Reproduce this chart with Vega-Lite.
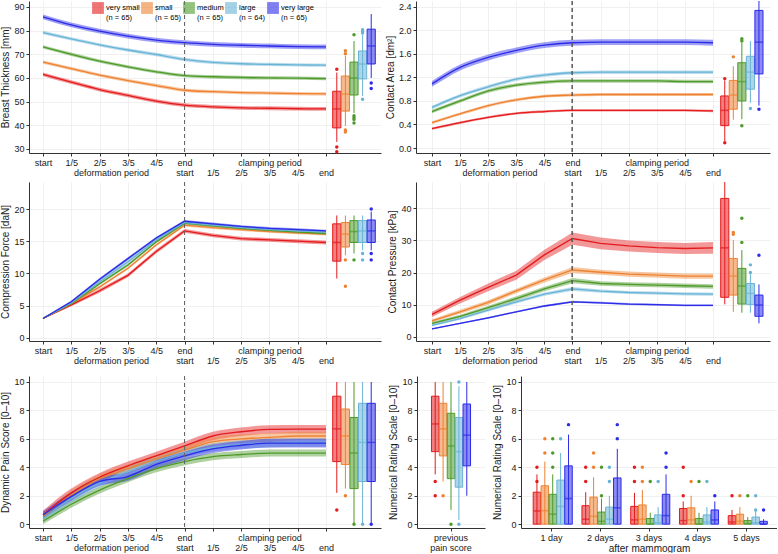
{
"$schema":"https://vega.github.io/schema/vega-lite/v6.json",
"padding":0,
"config":{"font":"Liberation Sans","view":{"stroke":null},
"axis":{"labelFontSize":9,"titleFontSize":10,"titleFontWeight":"normal","labelColor":"#1a1a1a","titleColor":"#1a1a1a","domainColor":"#333","tickColor":"#333","tickSize":3,"labelPadding":2,"titlePadding":3,"gridColor":"#ececec","gridWidth":0.8,"labelOverlap":false}},
"datasets":{
"lA":[
{"g":"very small","t":0,"m":61.5,"lo":60.7,"hi":62.3},{"g":"very small","t":1,"m":58.2,"lo":57.4,"hi":59.0},{"g":"very small","t":2,"m":55.1,"lo":54.3,"hi":55.9},{"g":"very small","t":3,"m":52.6,"lo":51.8,"hi":53.4},{"g":"very small","t":4,"m":50.2,"lo":49.4,"hi":51.0},{"g":"very small","t":5,"m":48.5,"lo":47.7,"hi":49.3},{"g":"very small","t":6,"m":47.8,"lo":47.0,"hi":48.6},{"g":"very small","t":7,"m":47.4,"lo":46.6,"hi":48.2},{"g":"very small","t":8,"m":47.2,"lo":46.4,"hi":48.0},{"g":"very small","t":9,"m":47.0,"lo":46.2,"hi":47.8},{"g":"very small","t":10,"m":46.9,"lo":46.1,"hi":47.7},
{"g":"small","t":0,"m":66.7,"lo":66.0,"hi":67.4},{"g":"small","t":1,"m":63.9,"lo":63.2,"hi":64.6},{"g":"small","t":2,"m":61.2,"lo":60.5,"hi":61.9},{"g":"small","t":3,"m":58.9,"lo":58.2,"hi":59.6},{"g":"small","t":4,"m":56.8,"lo":56.1,"hi":57.5},{"g":"small","t":5,"m":54.8,"lo":54.1,"hi":55.5},{"g":"small","t":6,"m":54.2,"lo":53.5,"hi":54.9},{"g":"small","t":7,"m":53.8,"lo":53.1,"hi":54.5},{"g":"small","t":8,"m":53.6,"lo":52.9,"hi":54.3},{"g":"small","t":9,"m":53.4,"lo":52.7,"hi":54.1},{"g":"small","t":10,"m":53.3,"lo":52.6,"hi":54.0},
{"g":"medium","t":0,"m":73.1,"lo":72.4,"hi":73.8},{"g":"medium","t":1,"m":70.0,"lo":69.3,"hi":70.7},{"g":"medium","t":2,"m":67.1,"lo":66.4,"hi":67.8},{"g":"medium","t":3,"m":64.7,"lo":64.0,"hi":65.4},{"g":"medium","t":4,"m":62.6,"lo":61.9,"hi":63.3},{"g":"medium","t":5,"m":61.0,"lo":60.3,"hi":61.7},{"g":"medium","t":6,"m":60.5,"lo":59.8,"hi":61.2},{"g":"medium","t":7,"m":60.2,"lo":59.5,"hi":60.9},{"g":"medium","t":8,"m":60.0,"lo":59.3,"hi":60.7},{"g":"medium","t":9,"m":59.9,"lo":59.2,"hi":60.6},{"g":"medium","t":10,"m":59.7,"lo":59.0,"hi":60.4},
{"g":"large","t":0,"m":79.2,"lo":78.5,"hi":79.9},{"g":"large","t":1,"m":76.5,"lo":75.8,"hi":77.2},{"g":"large","t":2,"m":74.0,"lo":73.3,"hi":74.7},{"g":"large","t":3,"m":71.8,"lo":71.1,"hi":72.5},{"g":"large","t":4,"m":69.9,"lo":69.2,"hi":70.6},{"g":"large","t":5,"m":67.8,"lo":67.1,"hi":68.5},{"g":"large","t":6,"m":66.6,"lo":65.9,"hi":67.3},{"g":"large","t":7,"m":66.0,"lo":65.3,"hi":66.7},{"g":"large","t":8,"m":65.7,"lo":65.0,"hi":66.4},{"g":"large","t":9,"m":65.5,"lo":64.8,"hi":66.2},{"g":"large","t":10,"m":65.4,"lo":64.7,"hi":66.1},
{"g":"very large","t":0,"m":85.8,"lo":84.8,"hi":86.8},{"g":"very large","t":1,"m":82.4,"lo":81.4,"hi":83.4},{"g":"very large","t":2,"m":79.8,"lo":78.8,"hi":80.8},{"g":"very large","t":3,"m":77.7,"lo":76.7,"hi":78.7},{"g":"very large","t":4,"m":76.0,"lo":75.0,"hi":77.0},{"g":"very large","t":5,"m":74.9,"lo":73.9,"hi":75.9},{"g":"very large","t":6,"m":74.2,"lo":73.2,"hi":75.2},{"g":"very large","t":7,"m":73.8,"lo":72.8,"hi":74.8},{"g":"very large","t":8,"m":73.5,"lo":72.5,"hi":74.5},{"g":"very large","t":9,"m":73.2,"lo":72.2,"hi":74.2},{"g":"very large","t":10,"m":73.1,"lo":72.1,"hi":74.1}],
"lB":[
{"g":"very small","t":0,"m":0.33,"lo":0.31,"hi":0.35},{"g":"very small","t":1,"m":0.43,"lo":0.41,"hi":0.45},{"g":"very small","t":2,"m":0.52,"lo":0.50,"hi":0.54},{"g":"very small","t":3,"m":0.59,"lo":0.57,"hi":0.61},{"g":"very small","t":4,"m":0.62,"lo":0.60,"hi":0.64},{"g":"very small","t":5,"m":0.64,"lo":0.62,"hi":0.66},{"g":"very small","t":6,"m":0.64,"lo":0.62,"hi":0.66},{"g":"very small","t":7,"m":0.64,"lo":0.62,"hi":0.66},{"g":"very small","t":8,"m":0.64,"lo":0.62,"hi":0.66},{"g":"very small","t":9,"m":0.64,"lo":0.62,"hi":0.66},{"g":"very small","t":10,"m":0.63,"lo":0.61,"hi":0.65},
{"g":"small","t":0,"m":0.43,"lo":0.405,"hi":0.455},{"g":"small","t":1,"m":0.58,"lo":0.555,"hi":0.605},{"g":"small","t":2,"m":0.72,"lo":0.695,"hi":0.745},{"g":"small","t":3,"m":0.82,"lo":0.795,"hi":0.845},{"g":"small","t":4,"m":0.88,"lo":0.855,"hi":0.905},{"g":"small","t":5,"m":0.90,"lo":0.875,"hi":0.925},{"g":"small","t":6,"m":0.91,"lo":0.885,"hi":0.935},{"g":"small","t":7,"m":0.91,"lo":0.885,"hi":0.935},{"g":"small","t":8,"m":0.91,"lo":0.885,"hi":0.935},{"g":"small","t":9,"m":0.91,"lo":0.885,"hi":0.935},{"g":"small","t":10,"m":0.91,"lo":0.885,"hi":0.935},
{"g":"medium","t":0,"m":0.62,"lo":0.59,"hi":0.65},{"g":"medium","t":1,"m":0.80,"lo":0.77,"hi":0.83},{"g":"medium","t":2,"m":0.97,"lo":0.94,"hi":1.00},{"g":"medium","t":3,"m":1.07,"lo":1.04,"hi":1.10},{"g":"medium","t":4,"m":1.12,"lo":1.09,"hi":1.15},{"g":"medium","t":5,"m":1.14,"lo":1.11,"hi":1.17},{"g":"medium","t":6,"m":1.14,"lo":1.11,"hi":1.17},{"g":"medium","t":7,"m":1.14,"lo":1.11,"hi":1.17},{"g":"medium","t":8,"m":1.14,"lo":1.11,"hi":1.17},{"g":"medium","t":9,"m":1.13,"lo":1.10,"hi":1.16},{"g":"medium","t":10,"m":1.13,"lo":1.10,"hi":1.16},
{"g":"large","t":0,"m":0.69,"lo":0.66,"hi":0.72},{"g":"large","t":1,"m":0.89,"lo":0.86,"hi":0.92},{"g":"large","t":2,"m":1.04,"lo":1.01,"hi":1.07},{"g":"large","t":3,"m":1.17,"lo":1.14,"hi":1.20},{"g":"large","t":4,"m":1.24,"lo":1.21,"hi":1.27},{"g":"large","t":5,"m":1.28,"lo":1.25,"hi":1.31},{"g":"large","t":6,"m":1.29,"lo":1.26,"hi":1.32},{"g":"large","t":7,"m":1.29,"lo":1.26,"hi":1.32},{"g":"large","t":8,"m":1.29,"lo":1.26,"hi":1.32},{"g":"large","t":9,"m":1.29,"lo":1.26,"hi":1.32},{"g":"large","t":10,"m":1.29,"lo":1.26,"hi":1.32},
{"g":"very large","t":0,"m":1.09,"lo":1.04,"hi":1.14},{"g":"very large","t":1,"m":1.37,"lo":1.32,"hi":1.42},{"g":"very large","t":2,"m":1.54,"lo":1.49,"hi":1.59},{"g":"very large","t":3,"m":1.66,"lo":1.61,"hi":1.71},{"g":"very large","t":4,"m":1.75,"lo":1.70,"hi":1.80},{"g":"very large","t":5,"m":1.79,"lo":1.74,"hi":1.84},{"g":"very large","t":6,"m":1.80,"lo":1.75,"hi":1.85},{"g":"very large","t":7,"m":1.80,"lo":1.75,"hi":1.85},{"g":"very large","t":8,"m":1.80,"lo":1.75,"hi":1.85},{"g":"very large","t":9,"m":1.80,"lo":1.75,"hi":1.85},{"g":"very large","t":10,"m":1.79,"lo":1.74,"hi":1.84}],
"lC":[
{"g":"very small","t":0,"m":3.0,"lo":2.9,"hi":3.1},{"g":"very small","t":1,"m":5.1,"lo":4.9,"hi":5.3},{"g":"very small","t":2,"m":7.3,"lo":7.0,"hi":7.6},{"g":"very small","t":3,"m":9.7,"lo":9.4,"hi":10.0},{"g":"very small","t":4,"m":13.4,"lo":13.1,"hi":13.7},{"g":"very small","t":5,"m":16.6,"lo":16.3,"hi":16.9},{"g":"very small","t":6,"m":15.9,"lo":15.6,"hi":16.2},{"g":"very small","t":7,"m":15.4,"lo":15.1,"hi":15.7},{"g":"very small","t":8,"m":15.2,"lo":14.9,"hi":15.5},{"g":"very small","t":9,"m":15.0,"lo":14.7,"hi":15.3},{"g":"very small","t":10,"m":14.8,"lo":14.5,"hi":15.1},
{"g":"small","t":0,"m":3.0,"lo":2.9,"hi":3.1},{"g":"small","t":1,"m":5.3,"lo":5.1,"hi":5.5},{"g":"small","t":2,"m":7.9,"lo":7.7,"hi":8.1},{"g":"small","t":3,"m":10.8,"lo":10.6,"hi":11.0},{"g":"small","t":4,"m":14.4,"lo":14.2,"hi":14.6},{"g":"small","t":5,"m":17.5,"lo":17.3,"hi":17.7},{"g":"small","t":6,"m":17.1,"lo":16.9,"hi":17.3},{"g":"small","t":7,"m":16.8,"lo":16.6,"hi":17.0},{"g":"small","t":8,"m":16.5,"lo":16.3,"hi":16.7},{"g":"small","t":9,"m":16.3,"lo":16.1,"hi":16.5},{"g":"small","t":10,"m":16.1,"lo":15.9,"hi":16.3},
{"g":"medium","t":0,"m":3.0,"lo":2.9,"hi":3.1},{"g":"medium","t":1,"m":5.3,"lo":5.1,"hi":5.5},{"g":"medium","t":2,"m":8.4,"lo":8.2,"hi":8.6},{"g":"medium","t":3,"m":11.3,"lo":11.1,"hi":11.5},{"g":"medium","t":4,"m":14.9,"lo":14.7,"hi":15.1},{"g":"medium","t":5,"m":17.8,"lo":17.6,"hi":18.0},{"g":"medium","t":6,"m":17.4,"lo":17.2,"hi":17.6},{"g":"medium","t":7,"m":17.0,"lo":16.8,"hi":17.2},{"g":"medium","t":8,"m":16.7,"lo":16.5,"hi":16.9},{"g":"medium","t":9,"m":16.4,"lo":16.2,"hi":16.6},{"g":"medium","t":10,"m":16.2,"lo":16.0,"hi":16.4},
{"g":"large","t":0,"m":3.0,"lo":2.9,"hi":3.1},{"g":"large","t":1,"m":5.4,"lo":5.1,"hi":5.7},{"g":"large","t":2,"m":8.7,"lo":8.4,"hi":9.0},{"g":"large","t":3,"m":11.8,"lo":11.5,"hi":12.1},{"g":"large","t":4,"m":15.2,"lo":14.95,"hi":15.45},{"g":"large","t":5,"m":17.9,"lo":17.65,"hi":18.15},{"g":"large","t":6,"m":17.5,"lo":17.25,"hi":17.75},{"g":"large","t":7,"m":17.1,"lo":16.85,"hi":17.35},{"g":"large","t":8,"m":16.8,"lo":16.55,"hi":17.05},{"g":"large","t":9,"m":16.6,"lo":16.35,"hi":16.85},{"g":"large","t":10,"m":16.4,"lo":16.15,"hi":16.65},
{"g":"very large","t":0,"m":3.0,"lo":2.9,"hi":3.1},{"g":"very large","t":1,"m":5.6,"lo":5.4,"hi":5.8},{"g":"very large","t":2,"m":9.1,"lo":8.9,"hi":9.3},{"g":"very large","t":3,"m":12.3,"lo":12.1,"hi":12.5},{"g":"very large","t":4,"m":15.5,"lo":15.3,"hi":15.7},{"g":"very large","t":5,"m":18.1,"lo":17.9,"hi":18.3},{"g":"very large","t":6,"m":17.7,"lo":17.5,"hi":17.9},{"g":"very large","t":7,"m":17.3,"lo":17.1,"hi":17.5},{"g":"very large","t":8,"m":17.0,"lo":16.8,"hi":17.2},{"g":"very large","t":9,"m":16.8,"lo":16.6,"hi":17.0},{"g":"very large","t":10,"m":16.6,"lo":16.4,"hi":16.8}],
"lD":[
{"g":"very small","t":0,"m":7.0,"lo":6.2,"hi":7.8},{"g":"very small","t":1,"m":11.4,"lo":10.4,"hi":12.4},{"g":"very small","t":2,"m":15.4,"lo":14.2,"hi":16.6},{"g":"very small","t":3,"m":19.2,"lo":17.8,"hi":20.6},{"g":"very small","t":4,"m":25.5,"lo":23.9,"hi":27.1},{"g":"very small","t":5,"m":30.6,"lo":28.7,"hi":32.5},{"g":"very small","t":6,"m":29.1,"lo":27.3,"hi":30.9},{"g":"very small","t":7,"m":28.3,"lo":26.6,"hi":30.0},{"g":"very small","t":8,"m":27.8,"lo":26.1,"hi":29.5},{"g":"very small","t":9,"m":27.5,"lo":25.8,"hi":29.2},{"g":"very small","t":10,"m":27.7,"lo":25.9,"hi":29.5},
{"g":"small","t":0,"m":5.0,"lo":4.5,"hi":5.5},{"g":"small","t":1,"m":7.8,"lo":7.2,"hi":8.4},{"g":"small","t":2,"m":10.7,"lo":10.0,"hi":11.4},{"g":"small","t":3,"m":14.3,"lo":13.6,"hi":15.0},{"g":"small","t":4,"m":17.7,"lo":16.9,"hi":18.5},{"g":"small","t":5,"m":20.8,"lo":19.9,"hi":21.7},{"g":"small","t":6,"m":20.1,"lo":19.3,"hi":20.9},{"g":"small","t":7,"m":19.5,"lo":18.7,"hi":20.3},{"g":"small","t":8,"m":19.2,"lo":18.4,"hi":20.0},{"g":"small","t":9,"m":18.9,"lo":18.1,"hi":19.7},{"g":"small","t":10,"m":18.9,"lo":18.1,"hi":19.7},
{"g":"medium","t":0,"m":4.2,"lo":3.8,"hi":4.6},{"g":"medium","t":1,"m":6.4,"lo":5.9,"hi":6.9},{"g":"medium","t":2,"m":9.1,"lo":8.5,"hi":9.7},{"g":"medium","t":3,"m":11.9,"lo":11.2,"hi":12.6},{"g":"medium","t":4,"m":14.9,"lo":14.2,"hi":15.6},{"g":"medium","t":5,"m":17.5,"lo":16.7,"hi":18.3},{"g":"medium","t":6,"m":16.6,"lo":15.9,"hi":17.3},{"g":"medium","t":7,"m":16.3,"lo":15.6,"hi":17.0},{"g":"medium","t":8,"m":16.1,"lo":15.4,"hi":16.8},{"g":"medium","t":9,"m":15.9,"lo":15.2,"hi":16.6},{"g":"medium","t":10,"m":15.7,"lo":15.0,"hi":16.4},
{"g":"large","t":0,"m":3.6,"lo":3.3,"hi":3.9},{"g":"large","t":1,"m":5.7,"lo":5.3,"hi":6.1},{"g":"large","t":2,"m":8.3,"lo":7.9,"hi":8.7},{"g":"large","t":3,"m":10.9,"lo":10.4,"hi":11.4},{"g":"large","t":4,"m":13.3,"lo":12.8,"hi":13.8},{"g":"large","t":5,"m":14.9,"lo":14.3,"hi":15.5},{"g":"large","t":6,"m":14.2,"lo":13.7,"hi":14.7},{"g":"large","t":7,"m":13.8,"lo":13.3,"hi":14.3},{"g":"large","t":8,"m":13.6,"lo":13.1,"hi":14.1},{"g":"large","t":9,"m":13.4,"lo":12.9,"hi":13.9},{"g":"large","t":10,"m":13.3,"lo":12.8,"hi":13.8},
{"g":"very large","t":0,"m":2.5,"lo":2.3,"hi":2.7},{"g":"very large","t":1,"m":4.2,"lo":4.0,"hi":4.4},{"g":"very large","t":2,"m":5.9,"lo":5.65,"hi":6.15},{"g":"very large","t":3,"m":7.8,"lo":7.55,"hi":8.05},{"g":"very large","t":4,"m":9.6,"lo":9.3,"hi":9.9},{"g":"very large","t":5,"m":10.9,"lo":10.6,"hi":11.2},{"g":"very large","t":6,"m":10.6,"lo":10.3,"hi":10.9},{"g":"very large","t":7,"m":10.2,"lo":9.9,"hi":10.5},{"g":"very large","t":8,"m":10.0,"lo":9.7,"hi":10.3},{"g":"very large","t":9,"m":9.8,"lo":9.5,"hi":10.1},{"g":"very large","t":10,"m":9.8,"lo":9.5,"hi":10.1}],
"lE":[
{"g":"very small","t":0,"m":0.65,"lo":0.35,"hi":0.95},{"g":"very small","t":1,"m":2.2,"lo":1.9,"hi":2.5},{"g":"very small","t":2,"m":3.3,"lo":3.0,"hi":3.6},{"g":"very small","t":3,"m":4.1,"lo":3.8,"hi":4.4},{"g":"very small","t":4,"m":4.8,"lo":4.5,"hi":5.1},{"g":"very small","t":5,"m":5.5,"lo":5.2,"hi":5.8},{"g":"very small","t":6,"m":6.2,"lo":5.9,"hi":6.5},{"g":"very small","t":7,"m":6.5,"lo":6.2,"hi":6.8},{"g":"very small","t":8,"m":6.66,"lo":6.36,"hi":6.96},{"g":"very small","t":9,"m":6.68,"lo":6.38,"hi":6.98},{"g":"very small","t":10,"m":6.68,"lo":6.38,"hi":6.98},
{"g":"small","t":0,"m":0.55,"lo":0.3,"hi":0.8},{"g":"small","t":1,"m":2.05,"lo":1.75,"hi":2.35},{"g":"small","t":2,"m":3.2,"lo":2.9,"hi":3.5},{"g":"small","t":3,"m":3.9,"lo":3.6,"hi":4.2},{"g":"small","t":4,"m":4.6,"lo":4.3,"hi":4.9},{"g":"small","t":5,"m":5.2,"lo":4.9,"hi":5.5},{"g":"small","t":6,"m":5.8,"lo":5.5,"hi":6.1},{"g":"small","t":7,"m":6.0,"lo":5.7,"hi":6.3},{"g":"small","t":8,"m":6.1,"lo":5.8,"hi":6.4},{"g":"small","t":9,"m":6.2,"lo":5.9,"hi":6.5},{"g":"small","t":10,"m":6.2,"lo":5.9,"hi":6.5},
{"g":"medium","t":0,"m":0.2,"lo":0.0,"hi":0.4},{"g":"medium","t":1,"m":1.4,"lo":1.15,"hi":1.65},{"g":"medium","t":2,"m":2.4,"lo":2.15,"hi":2.65},{"g":"medium","t":3,"m":3.2,"lo":2.95,"hi":3.45},{"g":"medium","t":4,"m":3.9,"lo":3.65,"hi":4.15},{"g":"medium","t":5,"m":4.4,"lo":4.15,"hi":4.65},{"g":"medium","t":6,"m":4.75,"lo":4.5,"hi":5.0},{"g":"medium","t":7,"m":4.9,"lo":4.65,"hi":5.15},{"g":"medium","t":8,"m":5.0,"lo":4.75,"hi":5.25},{"g":"medium","t":9,"m":5.0,"lo":4.75,"hi":5.25},{"g":"medium","t":10,"m":5.0,"lo":4.75,"hi":5.25},
{"g":"large","t":0,"m":0.4,"lo":0.15,"hi":0.65},{"g":"large","t":1,"m":1.8,"lo":1.5,"hi":2.1},{"g":"large","t":2,"m":2.9,"lo":2.6,"hi":3.2},{"g":"large","t":3,"m":3.7,"lo":3.4,"hi":4.0},{"g":"large","t":4,"m":4.4,"lo":4.1,"hi":4.7},{"g":"large","t":5,"m":5.0,"lo":4.7,"hi":5.3},{"g":"large","t":6,"m":5.4,"lo":5.1,"hi":5.7},{"g":"large","t":7,"m":5.6,"lo":5.3,"hi":5.9},{"g":"large","t":8,"m":5.7,"lo":5.4,"hi":6.0},{"g":"large","t":9,"m":5.75,"lo":5.45,"hi":6.05},{"g":"large","t":10,"m":5.75,"lo":5.45,"hi":6.05},
{"g":"very large","t":0,"m":0.65,"lo":0.4,"hi":0.9},{"g":"very large","t":1,"m":1.95,"lo":1.65,"hi":2.25},{"g":"very large","t":2,"m":3.0,"lo":2.7,"hi":3.3},{"g":"very large","t":3,"m":3.35,"lo":3.05,"hi":3.65},{"g":"very large","t":4,"m":4.2,"lo":3.9,"hi":4.5},{"g":"very large","t":5,"m":4.8,"lo":4.5,"hi":5.1},{"g":"very large","t":6,"m":5.3,"lo":5.0,"hi":5.6},{"g":"very large","t":7,"m":5.55,"lo":5.25,"hi":5.85},{"g":"very large","t":8,"m":5.7,"lo":5.4,"hi":6.0},{"g":"very large","t":9,"m":5.7,"lo":5.4,"hi":6.0},{"g":"very large","t":10,"m":5.7,"lo":5.4,"hi":6.0}],
"bx":[
{"p":"A","g":"very small","lw":33.0,"q1":38.9,"md":46.9,"q3":54.4,"uw":62.3},{"p":"A","g":"small","lw":39.7,"q1":46.0,"md":53.2,"q3":60.8,"uw":69.3},{"p":"A","g":"medium","lw":45.2,"q1":52.8,"md":60.0,"q3":66.7,"uw":75.6},{"p":"A","g":"large","lw":52.4,"q1":59.6,"md":65.9,"q3":71.4,"uw":78.3},{"p":"A","g":"very large","lw":60.0,"q1":65.9,"md":73.5,"q3":80.6,"uw":87.0},
{"p":"B","g":"very small","lw":0.12,"q1":0.38,"md":0.64,"q3":0.885,"uw":1.15},{"p":"B","g":"small","lw":0.48,"q1":0.66,"md":0.90,"q3":1.15,"uw":1.39},{"p":"B","g":"medium","lw":0.49,"q1":0.80,"md":1.13,"q3":1.45,"uw":1.79},{"p":"B","g":"large","lw":0.77,"q1":1.00,"md":1.29,"q3":1.56,"uw":1.82},{"p":"B","g":"very large","lw":0.72,"q1":1.26,"md":1.80,"q3":2.34,"uw":2.5},
{"p":"C","g":"very small","lw":9.2,"q1":11.9,"md":14.8,"q3":17.7,"uw":19.0},{"p":"C","g":"small","lw":12.8,"q1":14.1,"md":16.1,"q3":17.9,"uw":19.0},{"p":"C","g":"medium","lw":13.1,"q1":14.8,"md":16.5,"q3":18.2,"uw":19.0},{"p":"C","g":"large","lw":13.6,"q1":14.8,"md":16.6,"q3":18.2,"uw":19.0},{"p":"C","g":"very large","lw":13.6,"q1":14.8,"md":16.6,"q3":18.3,"uw":19.6},
{"p":"D","g":"very small","lw":10.1,"q1":12.3,"md":27.7,"q3":43.1,"uw":48.2},{"p":"D","g":"small","lw":7.8,"q1":13.0,"md":18.9,"q3":24.4,"uw":30.1},{"p":"D","g":"medium","lw":7.5,"q1":10.2,"md":15.8,"q3":21.3,"uw":27.0},{"p":"D","g":"large","lw":7.5,"q1":10.1,"md":13.5,"q3":16.6,"uw":19.5},{"p":"D","g":"very large","lw":4.2,"q1":6.4,"md":9.9,"q3":13.0,"uw":16.3},
{"p":"E","g":"very small","lw":2.2,"q1":4.4,"md":6.7,"q3":9.0,"uw":10},{"p":"E","g":"small","lw":2.5,"q1":4.2,"md":6.2,"q3":8.1,"uw":10},{"p":"E","g":"medium","lw":0,"q1":2.5,"md":5.0,"q3":7.5,"uw":10},{"p":"E","g":"large","lw":0,"q1":3.0,"md":5.75,"q3":8.5,"uw":10},{"p":"E","g":"very large","lw":0,"q1":3.0,"md":5.75,"q3":8.5,"uw":10},
{"p":"F","d":"prev","g":"very small","lw":3.5,"q1":5.1,"md":7.05,"q3":9.0,"uw":10},{"p":"F","d":"prev","g":"small","lw":3.0,"q1":4.8,"md":6.7,"q3":8.5,"uw":10},{"p":"F","d":"prev","g":"medium","lw":1.0,"q1":3.2,"md":5.5,"q3":7.8,"uw":10},{"p":"F","d":"prev","g":"large","lw":0.3,"q1":2.6,"md":5.1,"q3":7.5,"uw":9.7},{"p":"F","d":"prev","g":"very large","lw":2.0,"q1":4.1,"md":6.26,"q3":8.45,"uw":10},
{"p":"G","d":"1 day","g":"very small","lw":0,"q1":0,"md":0.93,"q3":2.25,"uw":3.5},{"p":"G","d":"1 day","g":"small","lw":0,"q1":0,"md":0.95,"q3":2.7,"uw":4.4},{"p":"G","d":"1 day","g":"medium","lw":0,"q1":0,"md":0.7,"q3":2.1,"uw":3.5},{"p":"G","d":"1 day","g":"large","lw":0,"q1":0,"md":1.25,"q3":3.1,"uw":5.0},{"p":"G","d":"1 day","g":"very large","lw":0,"q1":0,"md":1.8,"q3":4.1,"uw":6.3},
{"p":"G","d":"2 days","g":"very small","lw":0,"q1":0,"md":0.35,"q3":1.3,"uw":2.25},{"p":"G","d":"2 days","g":"small","lw":0,"q1":0,"md":0.55,"q3":1.9,"uw":3.3},{"p":"G","d":"2 days","g":"medium","lw":0,"q1":0,"md":0.2,"q3":0.85,"uw":1.8},{"p":"G","d":"2 days","g":"large","lw":0,"q1":0,"md":0.35,"q3":1.2,"uw":2.0},{"p":"G","d":"2 days","g":"very large","lw":0,"q1":0,"md":1.15,"q3":3.25,"uw":5.3},
{"p":"G","d":"3 days","g":"very small","lw":0,"q1":0,"md":0.3,"q3":1.25,"uw":2.2},{"p":"G","d":"3 days","g":"small","lw":0,"q1":0,"md":0.35,"q3":1.35,"uw":2.4},{"p":"G","d":"3 days","g":"medium","lw":0,"q1":0,"md":0.0,"q3":0.4,"uw":0.8},{"p":"G","d":"3 days","g":"large","lw":0,"q1":0,"md":0.1,"q3":0.65,"uw":1.2},{"p":"G","d":"3 days","g":"very large","lw":0,"q1":0,"md":0.6,"q3":2.1,"uw":3.5},
{"p":"G","d":"4 days","g":"very small","lw":0,"q1":0,"md":0.25,"q3":1.1,"uw":1.6},{"p":"G","d":"4 days","g":"small","lw":0,"q1":0,"md":0.3,"q3":1.15,"uw":2.0},{"p":"G","d":"4 days","g":"medium","lw":0,"q1":0,"md":0.0,"q3":0.4,"uw":0.8},{"p":"G","d":"4 days","g":"large","lw":0,"q1":0,"md":0.15,"q3":0.65,"uw":1.2},{"p":"G","d":"4 days","g":"very large","lw":0,"q1":0,"md":0.3,"q3":1.0,"uw":1.6},
{"p":"G","d":"5 days","g":"very small","lw":0,"q1":0,"md":0.15,"q3":0.6,"uw":1.0},{"p":"G","d":"5 days","g":"small","lw":0,"q1":0,"md":0.2,"q3":0.7,"uw":1.2},{"p":"G","d":"5 days","g":"medium","lw":0,"q1":0,"md":0.05,"q3":0.25,"uw":0.5},{"p":"G","d":"5 days","g":"large","lw":0,"q1":0,"md":0.1,"q3":0.5,"uw":1.0},{"p":"G","d":"5 days","g":"very large","lw":0,"q1":0,"md":0.0,"q3":0.2,"uw":0.35}],
"ot":[
{"p":"A","g":"very small","v":63.7},{"p":"A","g":"very small","v":30.8},{"p":"A","g":"very small","v":28.8},{"p":"A","g":"small","v":71.5},{"p":"A","g":"small","v":70.2},{"p":"A","g":"small","v":38.0},{"p":"A","g":"small","v":37.2},{"p":"A","g":"medium","v":78.2},{"p":"A","g":"medium","v":44.0},{"p":"A","g":"medium","v":43.2},{"p":"A","g":"medium","v":42.5},{"p":"A","g":"medium","v":41.0},{"p":"A","g":"large","v":80.4},{"p":"A","g":"large","v":79.7},{"p":"A","g":"large","v":79.0},{"p":"A","g":"large","v":51.0},{"p":"A","g":"very large","v":57.9},{"p":"A","g":"very large","v":55.5},
{"p":"B","g":"very small","v":1.18},{"p":"B","g":"very small","v":0.09},{"p":"B","g":"small","v":1.55},{"p":"B","g":"medium","v":1.86},{"p":"B","g":"medium","v":1.82},{"p":"B","g":"medium","v":0.38},{"p":"B","g":"large","v":0.67},{"p":"B","g":"very large","v":0.66},
{"p":"C","g":"small","v":12.1},{"p":"C","g":"small","v":8.0},{"p":"C","g":"medium","v":12.1},{"p":"C","g":"large","v":13.1},{"p":"C","g":"large","v":12.1},{"p":"C","g":"very large","v":20.0},{"p":"C","g":"very large","v":13.1},{"p":"C","g":"very large","v":12.1},
{"p":"D","g":"small","v":32.5},{"p":"D","g":"small","v":31.9},{"p":"D","g":"medium","v":29.4},{"p":"D","g":"medium","v":36.9},{"p":"D","g":"large","v":20.0},{"p":"D","g":"large","v":22.4},{"p":"D","g":"very large","v":25.4},
{"p":"E","g":"very small","v":1.0},{"p":"E","g":"small","v":2.0},{"p":"E","g":"medium","v":0},{"p":"E","g":"large","v":0},{"p":"E","g":"very large","v":0},
{"p":"F","d":"prev","g":"very small","v":3.0},{"p":"F","d":"prev","g":"very small","v":2.0},{"p":"F","d":"prev","g":"small","v":2.0},{"p":"F","d":"prev","g":"medium","v":0},{"p":"F","d":"prev","g":"large","v":10},{"p":"F","d":"prev","g":"large","v":0},
{"p":"G","d":"1 day","g":"very small","v":4},{"p":"G","d":"1 day","g":"very small","v":3},{"p":"G","d":"1 day","g":"small","v":6},{"p":"G","d":"1 day","g":"small","v":5},{"p":"G","d":"1 day","g":"medium","v":6},{"p":"G","d":"1 day","g":"medium","v":5},{"p":"G","d":"1 day","g":"medium","v":4},{"p":"G","d":"1 day","g":"large","v":6},{"p":"G","d":"1 day","g":"very large","v":7},
{"p":"G","d":"2 days","g":"very small","v":4},{"p":"G","d":"2 days","g":"very small","v":3},{"p":"G","d":"2 days","g":"small","v":5},{"p":"G","d":"2 days","g":"small","v":4},{"p":"G","d":"2 days","g":"medium","v":4},{"p":"G","d":"2 days","g":"medium","v":2},{"p":"G","d":"2 days","g":"large","v":4},{"p":"G","d":"2 days","g":"large","v":3},{"p":"G","d":"2 days","g":"very large","v":7},{"p":"G","d":"2 days","g":"very large","v":6},
{"p":"G","d":"3 days","g":"very small","v":4},{"p":"G","d":"3 days","g":"very small","v":3},{"p":"G","d":"3 days","g":"small","v":4},{"p":"G","d":"3 days","g":"small","v":3},{"p":"G","d":"3 days","g":"medium","v":3},{"p":"G","d":"3 days","g":"large","v":3},{"p":"G","d":"3 days","g":"very large","v":5},{"p":"G","d":"3 days","g":"very large","v":4},
{"p":"G","d":"4 days","g":"very small","v":4},{"p":"G","d":"4 days","g":"very small","v":2},{"p":"G","d":"4 days","g":"small","v":3},{"p":"G","d":"4 days","g":"medium","v":3},{"p":"G","d":"4 days","g":"large","v":3},{"p":"G","d":"4 days","g":"very large","v":2},
{"p":"G","d":"5 days","g":"very small","v":2},{"p":"G","d":"5 days","g":"small","v":2},{"p":"G","d":"5 days","g":"medium","v":2},{"p":"G","d":"5 days","g":"large","v":2},{"p":"G","d":"5 days","g":"large","v":1},{"p":"G","d":"5 days","g":"very large","v":1}]
},
"vconcat":[
{"vconcat":[
{"hconcat":[
{"width":352,"height":152,
"layer":[
{"data":{"name":"lA"},
"layer":[
{"mark":{"type":"area","interpolate":"monotone","opacity":0.45},
"encoding":{"x":{"field":"t","type":"quantitative","scale":{"domain":[-0.495,11.943],"nice":false,"zero":false},"axis":{"values":[0,1,2,2.4,3,4,5,6,7,8,9,10],"tickCount":50,"labelExpr":"[['start',''],['1/5',''],['2/5',''],['','deformation period'],['3/5',''],['4/5',''],['end','start'],['','1/5'],['','2/5'],['clamping period','3/5'],['','4/5'],['','end']][indexof([0,1,2,2.4,3,4,5,6,7,8,9,10], datum.value)]","labelOverlap":false,"labelFlush":false,"labelLineHeight":10,"title":null,"grid":true,"tickOpacity":{"condition":{"test":"datum.value == 2.4","value":0},"value":1},"gridOpacity":{"condition":{"test":"datum.value == 2.4","value":0},"value":1}}},
"y":{"field":"lo","type":"quantitative","scale":{"domain":[28.3,92.5],"nice":false,"zero":false},"axis":{"title":"Breast Thickness [mm]","values":[30,40,50,60,70,80,90],"tickCount":50,"format":"d","grid":true}},
"y2":{"field":"hi"},
"color":{"field":"g","type":"nominal","scale":{"domain":["very small","small","medium","large","very large"],"range":["#E41A1C","#EE8231","#4D9A2A","#69B3D6","#2B2BE8"]},"legend":{"orient":"none","legendX":63,"legendY":1,"direction":"horizontal","columns":5,"gridAlign":"none","title":null,"symbolType":"square","symbolSize":140,"symbolOpacity":0.6,"symbolStrokeWidth":0,"labelFontSize":7.5,"labelLineHeight":8,"labelOffset":2,"columnPadding":1,"padding":0,"labelLimit":200,"labelExpr":"[datum.label, datum.label == 'large' ? '(n = 64)' : '(n = 65)']"}}}},
{"mark":{"type":"line","interpolate":"monotone","strokeWidth":1.3},
"encoding":{"x":{"field":"t","type":"quantitative"},"y":{"field":"m","type":"quantitative","scale":{"domain":[28.3,92.5],"nice":false,"zero":false}},
"color":{"field":"g","type":"nominal","scale":{"domain":["very small","small","medium","large","very large"],"range":["#E41A1C","#EE8231","#4D9A2A","#69B3D6","#2B2BE8"]},"legend":null}}},
{"mark":{"type":"rule","strokeDash":[4,3],"color":"#666","strokeWidth":1},"encoding":{"x":{"datum":5,"type":"quantitative"}}}
]},
{"data":{"name":"bx"},"transform":[{"filter":"datum.p=='A'"}],
"encoding":{"x":{"field":"g","type":"nominal","scale":{"domain":["very small","small","medium","large","very large"],"paddingInner":0.05,"paddingOuter":0,"range":[303.7,346.3]},"axis":null},
"color":{"field":"g","type":"nominal","scale":{"domain":["very small","small","medium","large","very large"],"range":["#E41A1C","#EE8231","#4D9A2A","#69B3D6","#2B2BE8"]},"legend":null}},
"layer":[
{"mark":{"type":"rule","strokeWidth":1},"encoding":{"y":{"field":"lw","type":"quantitative","scale":{"domain":[28.3,92.5],"nice":false,"zero":false}},"y2":{"field":"uw"}}},
{"mark":{"type":"bar","opacity":0.55},"encoding":{"y":{"field":"q1","type":"quantitative","scale":{"domain":[28.3,92.5],"nice":false,"zero":false}},"y2":{"field":"q3"}}},
{"mark":{"type":"bar","filled":false,"strokeWidth":1},"encoding":{"y":{"field":"q1","type":"quantitative","scale":{"domain":[28.3,92.5],"nice":false,"zero":false}},"y2":{"field":"q3"}}},
{"mark":{"type":"tick","thickness":1.5,"size":8.2},"encoding":{"y":{"field":"md","type":"quantitative","scale":{"domain":[28.3,92.5],"nice":false,"zero":false}}}},
{"data":{"name":"ot"},"transform":[{"filter":"datum.p=='A'"}],"mark":{"type":"circle","size":12,"opacity":1},"encoding":{"y":{"field":"v","type":"quantitative","scale":{"domain":[28.3,92.5],"nice":false,"zero":false}}}}
]}
],
"resolve":{"scale":{"x":"independent"},"axis":{"x":"independent"}}},
{"width":354,"height":152,
"layer":[
{"data":{"name":"lB"},
"layer":[
{"mark":{"type":"area","interpolate":"monotone","opacity":0.45},
"encoding":{"x":{"field":"t","type":"quantitative","scale":{"domain":[-0.569,12.028],"nice":false,"zero":false},"axis":{"values":[0,1,2,2.4,3,4,5,6,7,8,9,10],"tickCount":50,"labelExpr":"[['start',''],['1/5',''],['2/5',''],['','deformation period'],['3/5',''],['4/5',''],['end','start'],['','1/5'],['','2/5'],['clamping period','3/5'],['','4/5'],['','end']][indexof([0,1,2,2.4,3,4,5,6,7,8,9,10], datum.value)]","labelOverlap":false,"labelFlush":false,"labelLineHeight":10,"title":null,"grid":true,"tickOpacity":{"condition":{"test":"datum.value == 2.4","value":0},"value":1},"gridOpacity":{"condition":{"test":"datum.value == 2.4","value":0},"value":1}}},
"y":{"field":"lo","type":"quantitative","scale":{"domain":[-0.085,2.5],"nice":false,"zero":false},"axis":{"title":"Contact Area [dm²]","values":[0,0.4,0.8,1.2,1.6,2.0,2.4],"tickCount":50,"format":".1f","grid":true}},
"y2":{"field":"hi"},
"color":{"field":"g","type":"nominal","scale":{"domain":["very small","small","medium","large","very large"],"range":["#E41A1C","#EE8231","#4D9A2A","#69B3D6","#2B2BE8"]},"legend":null}}},
{"mark":{"type":"line","interpolate":"monotone","strokeWidth":1.3},
"encoding":{"x":{"field":"t","type":"quantitative"},"y":{"field":"m","type":"quantitative","scale":{"domain":[-0.085,2.5],"nice":false,"zero":false}},
"color":{"field":"g","type":"nominal","scale":{"domain":["very small","small","medium","large","very large"],"range":["#E41A1C","#EE8231","#4D9A2A","#69B3D6","#2B2BE8"]},"legend":null}}},
{"mark":{"type":"rule","strokeDash":[4,3],"color":"#666","strokeWidth":1},"encoding":{"x":{"datum":5,"type":"quantitative"}}}
]},
{"data":{"name":"bx"},"transform":[{"filter":"datum.p=='B'"}],
"encoding":{"x":{"field":"g","type":"nominal","scale":{"domain":["very small","small","medium","large","very large"],"paddingInner":0.05,"paddingOuter":0,"range":[304.7,347.0]},"axis":null},
"color":{"field":"g","type":"nominal","scale":{"domain":["very small","small","medium","large","very large"],"range":["#E41A1C","#EE8231","#4D9A2A","#69B3D6","#2B2BE8"]},"legend":null}},
"layer":[
{"mark":{"type":"rule","strokeWidth":1},"encoding":{"y":{"field":"lw","type":"quantitative","scale":{"domain":[-0.085,2.5],"nice":false,"zero":false}},"y2":{"field":"uw"}}},
{"mark":{"type":"bar","opacity":0.55},"encoding":{"y":{"field":"q1","type":"quantitative","scale":{"domain":[-0.085,2.5],"nice":false,"zero":false}},"y2":{"field":"q3"}}},
{"mark":{"type":"bar","filled":false,"strokeWidth":1},"encoding":{"y":{"field":"q1","type":"quantitative","scale":{"domain":[-0.085,2.5],"nice":false,"zero":false}},"y2":{"field":"q3"}}},
{"mark":{"type":"tick","thickness":1.5,"size":8.2},"encoding":{"y":{"field":"md","type":"quantitative","scale":{"domain":[-0.085,2.5],"nice":false,"zero":false}}}},
{"data":{"name":"ot"},"transform":[{"filter":"datum.p=='B'"}],"mark":{"type":"circle","size":12,"opacity":1},"encoding":{"y":{"field":"v","type":"quantitative","scale":{"domain":[-0.085,2.5],"nice":false,"zero":false}}}}
]}
],
"resolve":{"scale":{"x":"independent"},"axis":{"x":"independent"}}}
],"spacing":4,"resolve":{"scale":{"color":"independent"},"legend":{"color":"independent"}}},
{"hconcat":[
{"width":352,"height":159,
"layer":[
{"data":{"name":"lC"},
"layer":[
{"mark":{"type":"area","interpolate":"linear","opacity":0.45},
"encoding":{"x":{"field":"t","type":"quantitative","scale":{"domain":[-0.495,11.943],"nice":false,"zero":false},"axis":{"values":[0,1,2,2.4,3,4,5,6,7,8,9,10],"tickCount":50,"labelExpr":"[['start',''],['1/5',''],['2/5',''],['','deformation period'],['3/5',''],['4/5',''],['end','start'],['','1/5'],['','2/5'],['clamping period','3/5'],['','4/5'],['','end']][indexof([0,1,2,2.4,3,4,5,6,7,8,9,10], datum.value)]","labelOverlap":false,"labelFlush":false,"labelLineHeight":10,"title":null,"grid":true,"tickOpacity":{"condition":{"test":"datum.value == 2.4","value":0},"value":1},"gridOpacity":{"condition":{"test":"datum.value == 2.4","value":0},"value":1}}},
"y":{"field":"lo","type":"quantitative","scale":{"domain":[-0.5,24.2],"nice":false,"zero":false},"axis":{"title":"Compression Force [daN]","values":[0,5,10,15,20],"tickCount":50,"format":"d","grid":true}},
"y2":{"field":"hi"},
"color":{"field":"g","type":"nominal","scale":{"domain":["very small","small","medium","large","very large"],"range":["#E41A1C","#EE8231","#4D9A2A","#69B3D6","#2B2BE8"]},"legend":null}}},
{"mark":{"type":"line","interpolate":"linear","strokeWidth":1.3},
"encoding":{"x":{"field":"t","type":"quantitative"},"y":{"field":"m","type":"quantitative","scale":{"domain":[-0.5,24.2],"nice":false,"zero":false}},
"color":{"field":"g","type":"nominal","scale":{"domain":["very small","small","medium","large","very large"],"range":["#E41A1C","#EE8231","#4D9A2A","#69B3D6","#2B2BE8"]},"legend":null}}},
{"mark":{"type":"rule","strokeDash":[4,3],"color":"#666","strokeWidth":1},"encoding":{"x":{"datum":5,"type":"quantitative"}}}
]},
{"data":{"name":"bx"},"transform":[{"filter":"datum.p=='C'"}],
"encoding":{"x":{"field":"g","type":"nominal","scale":{"domain":["very small","small","medium","large","very large"],"paddingInner":0.05,"paddingOuter":0,"range":[303.7,346.3]},"axis":null},
"color":{"field":"g","type":"nominal","scale":{"domain":["very small","small","medium","large","very large"],"range":["#E41A1C","#EE8231","#4D9A2A","#69B3D6","#2B2BE8"]},"legend":null}},
"layer":[
{"mark":{"type":"rule","strokeWidth":1},"encoding":{"y":{"field":"lw","type":"quantitative","scale":{"domain":[-0.5,24.2],"nice":false,"zero":false}},"y2":{"field":"uw"}}},
{"mark":{"type":"bar","opacity":0.55},"encoding":{"y":{"field":"q1","type":"quantitative","scale":{"domain":[-0.5,24.2],"nice":false,"zero":false}},"y2":{"field":"q3"}}},
{"mark":{"type":"bar","filled":false,"strokeWidth":1},"encoding":{"y":{"field":"q1","type":"quantitative","scale":{"domain":[-0.5,24.2],"nice":false,"zero":false}},"y2":{"field":"q3"}}},
{"mark":{"type":"tick","thickness":1.5,"size":8.2},"encoding":{"y":{"field":"md","type":"quantitative","scale":{"domain":[-0.5,24.2],"nice":false,"zero":false}}}},
{"data":{"name":"ot"},"transform":[{"filter":"datum.p=='C'"}],"mark":{"type":"circle","size":12,"opacity":1},"encoding":{"y":{"field":"v","type":"quantitative","scale":{"domain":[-0.5,24.2],"nice":false,"zero":false}}}}
]}
],
"resolve":{"scale":{"x":"independent"},"axis":{"x":"independent"}}},
{"width":354,"height":159,
"layer":[
{"data":{"name":"lD"},
"layer":[
{"mark":{"type":"area","interpolate":"linear","opacity":0.45},
"encoding":{"x":{"field":"t","type":"quantitative","scale":{"domain":[-0.569,12.028],"nice":false,"zero":false},"axis":{"values":[0,1,2,2.4,3,4,5,6,7,8,9,10],"tickCount":50,"labelExpr":"[['start',''],['1/5',''],['2/5',''],['','deformation period'],['3/5',''],['4/5',''],['end','start'],['','1/5'],['','2/5'],['clamping period','3/5'],['','4/5'],['','end']][indexof([0,1,2,2.4,3,4,5,6,7,8,9,10], datum.value)]","labelOverlap":false,"labelFlush":false,"labelLineHeight":10,"title":null,"grid":true,"tickOpacity":{"condition":{"test":"datum.value == 2.4","value":0},"value":1},"gridOpacity":{"condition":{"test":"datum.value == 2.4","value":0},"value":1}}},
"y":{"field":"lo","type":"quantitative","scale":{"domain":[-1.3,48.2],"nice":false,"zero":false},"axis":{"title":"Contact Pressure [kPa]","values":[0,10,20,30,40],"tickCount":50,"format":"d","grid":true}},
"y2":{"field":"hi"},
"color":{"field":"g","type":"nominal","scale":{"domain":["very small","small","medium","large","very large"],"range":["#E41A1C","#EE8231","#4D9A2A","#69B3D6","#2B2BE8"]},"legend":null}}},
{"mark":{"type":"line","interpolate":"linear","strokeWidth":1.3},
"encoding":{"x":{"field":"t","type":"quantitative"},"y":{"field":"m","type":"quantitative","scale":{"domain":[-1.3,48.2],"nice":false,"zero":false}},
"color":{"field":"g","type":"nominal","scale":{"domain":["very small","small","medium","large","very large"],"range":["#E41A1C","#EE8231","#4D9A2A","#69B3D6","#2B2BE8"]},"legend":null}}},
{"mark":{"type":"rule","strokeDash":[4,3],"color":"#666","strokeWidth":1},"encoding":{"x":{"datum":5,"type":"quantitative"}}}
]},
{"data":{"name":"bx"},"transform":[{"filter":"datum.p=='D'"}],
"encoding":{"x":{"field":"g","type":"nominal","scale":{"domain":["very small","small","medium","large","very large"],"paddingInner":0.05,"paddingOuter":0,"range":[304.7,347.0]},"axis":null},
"color":{"field":"g","type":"nominal","scale":{"domain":["very small","small","medium","large","very large"],"range":["#E41A1C","#EE8231","#4D9A2A","#69B3D6","#2B2BE8"]},"legend":null}},
"layer":[
{"mark":{"type":"rule","strokeWidth":1},"encoding":{"y":{"field":"lw","type":"quantitative","scale":{"domain":[-1.3,48.2],"nice":false,"zero":false}},"y2":{"field":"uw"}}},
{"mark":{"type":"bar","opacity":0.55},"encoding":{"y":{"field":"q1","type":"quantitative","scale":{"domain":[-1.3,48.2],"nice":false,"zero":false}},"y2":{"field":"q3"}}},
{"mark":{"type":"bar","filled":false,"strokeWidth":1},"encoding":{"y":{"field":"q1","type":"quantitative","scale":{"domain":[-1.3,48.2],"nice":false,"zero":false}},"y2":{"field":"q3"}}},
{"mark":{"type":"tick","thickness":1.5,"size":8.2},"encoding":{"y":{"field":"md","type":"quantitative","scale":{"domain":[-1.3,48.2],"nice":false,"zero":false}}}},
{"data":{"name":"ot"},"transform":[{"filter":"datum.p=='D'"}],"mark":{"type":"circle","size":12,"opacity":1},"encoding":{"y":{"field":"v","type":"quantitative","scale":{"domain":[-1.3,48.2],"nice":false,"zero":false}}}}
]},
{"mark":{"type":"rect","color":"#999999","opacity":0.55},"encoding":{"y":{"datum":10.6,"type":"quantitative","scale":{"domain":[-1.3,48.2],"nice":false,"zero":false}},"y2":{"datum":15.8}}}
],
"resolve":{"scale":{"x":"independent"},"axis":{"x":"independent"}}}
],"spacing":6,"resolve":{"scale":{"color":"independent"},"legend":{"color":"independent"}}}
],"spacing":4,"resolve":{"scale":{"color":"independent"},"legend":{"color":"independent"}}},
{"hconcat":[
{"width":352,"height":152,
"layer":[
{"data":{"name":"lE"},
"layer":[
{"mark":{"type":"area","interpolate":"monotone","opacity":0.45},
"encoding":{"x":{"field":"t","type":"quantitative","scale":{"domain":[-0.495,11.943],"nice":false,"zero":false},"axis":{"values":[0,1,2,2.4,3,4,5,6,7,8,9,10],"tickCount":50,"labelExpr":"[['start',''],['1/5',''],['2/5',''],['','deformation period'],['3/5',''],['4/5',''],['end','start'],['','1/5'],['','2/5'],['clamping period','3/5'],['','4/5'],['','end']][indexof([0,1,2,2.4,3,4,5,6,7,8,9,10], datum.value)]","labelOverlap":false,"labelFlush":false,"labelLineHeight":10,"title":null,"grid":true,"tickOpacity":{"condition":{"test":"datum.value == 2.4","value":0},"value":1},"gridOpacity":{"condition":{"test":"datum.value == 2.4","value":0},"value":1}}},
"y":{"field":"lo","type":"quantitative","scale":{"domain":[-0.27,10.42],"nice":false,"zero":false},"axis":{"title":"Dynamic Pain Score [0–10]","values":[0,2,4,6,8,10],"tickCount":50,"format":"d","grid":true}},
"y2":{"field":"hi"},
"color":{"field":"g","type":"nominal","scale":{"domain":["very small","small","medium","large","very large"],"range":["#E41A1C","#EE8231","#4D9A2A","#69B3D6","#2B2BE8"]},"legend":null}}},
{"mark":{"type":"line","interpolate":"monotone","strokeWidth":1.3},
"encoding":{"x":{"field":"t","type":"quantitative"},"y":{"field":"m","type":"quantitative","scale":{"domain":[-0.27,10.42],"nice":false,"zero":false}},
"color":{"field":"g","type":"nominal","scale":{"domain":["very small","small","medium","large","very large"],"range":["#E41A1C","#EE8231","#4D9A2A","#69B3D6","#2B2BE8"]},"legend":null}}},
{"mark":{"type":"rule","strokeDash":[4,3],"color":"#666","strokeWidth":1},"encoding":{"x":{"datum":5,"type":"quantitative"}}}
]},
{"data":{"name":"bx"},"transform":[{"filter":"datum.p=='E'"}],
"encoding":{"x":{"field":"g","type":"nominal","scale":{"domain":["very small","small","medium","large","very large"],"paddingInner":0.05,"paddingOuter":0,"range":[303.7,346.3]},"axis":null},
"color":{"field":"g","type":"nominal","scale":{"domain":["very small","small","medium","large","very large"],"range":["#E41A1C","#EE8231","#4D9A2A","#69B3D6","#2B2BE8"]},"legend":null}},
"layer":[
{"mark":{"type":"rule","strokeWidth":1},"encoding":{"y":{"field":"lw","type":"quantitative","scale":{"domain":[-0.27,10.42],"nice":false,"zero":false}},"y2":{"field":"uw"}}},
{"mark":{"type":"bar","opacity":0.55},"encoding":{"y":{"field":"q1","type":"quantitative","scale":{"domain":[-0.27,10.42],"nice":false,"zero":false}},"y2":{"field":"q3"}}},
{"mark":{"type":"bar","filled":false,"strokeWidth":1},"encoding":{"y":{"field":"q1","type":"quantitative","scale":{"domain":[-0.27,10.42],"nice":false,"zero":false}},"y2":{"field":"q3"}}},
{"mark":{"type":"tick","thickness":1.5,"size":8.2},"encoding":{"y":{"field":"md","type":"quantitative","scale":{"domain":[-0.27,10.42],"nice":false,"zero":false}}}},
{"data":{"name":"ot"},"transform":[{"filter":"datum.p=='E'"}],"mark":{"type":"circle","size":12,"opacity":1},"encoding":{"y":{"field":"v","type":"quantitative","scale":{"domain":[-0.27,10.42],"nice":false,"zero":false}}}}
]}
],
"resolve":{"scale":{"x":"independent"},"axis":{"x":"independent"}}},
{"hconcat":[
{"width":68,"height":152,
"data":{"name":"bx"},"transform":[{"filter":"datum.p=='F'"}],
"encoding":{"x":{"field":"d","type":"nominal","scale":{"paddingOuter":0.37,"paddingInner":0},"axis":{"title":null,"labelAngle":0,"labelExpr":"['previous','pain score']","labelLineHeight":10,"grid":false}},
"xOffset":{"field":"g","type":"nominal","scale":{"domain":["very small","small","medium","large","very large"],"paddingInner":0.05}},
"color":{"field":"g","type":"nominal","scale":{"domain":["very small","small","medium","large","very large"],"range":["#E41A1C","#EE8231","#4D9A2A","#69B3D6","#2B2BE8"]},"legend":null}},
"layer":[
{"mark":{"type":"rule","strokeWidth":1},"encoding":{"y":{"field":"lw","type":"quantitative","scale":{"domain":[-0.27,10.42],"nice":false,"zero":false},"axis":{"title":"Numerical Rating Scale [0–10]","values":[0,2,4,6,8,10],"tickCount":50,"format":"d","grid":true}},"y2":{"field":"uw"}}},
{"mark":{"type":"bar","opacity":0.55},"encoding":{"y":{"field":"q1","type":"quantitative","scale":{"domain":[-0.27,10.42],"nice":false,"zero":false}},"y2":{"field":"q3"}}},
{"mark":{"type":"bar","filled":false,"strokeWidth":1},"encoding":{"y":{"field":"q1","type":"quantitative","scale":{"domain":[-0.27,10.42],"nice":false,"zero":false}},"y2":{"field":"q3"}}},
{"mark":{"type":"tick","thickness":1.5,"size":7.4},"encoding":{"y":{"field":"md","type":"quantitative","scale":{"domain":[-0.27,10.42],"nice":false,"zero":false}}}},
{"data":{"name":"ot"},"transform":[{"filter":"datum.p=='F'"}],"mark":{"type":"circle","size":12,"opacity":1},"encoding":{"y":{"field":"v","type":"quantitative","scale":{"domain":[-0.27,10.42],"nice":false,"zero":false}}}}
]},
{"width":256,"height":152,
"data":{"name":"bx"},"transform":[{"filter":"datum.p=='G'"}],
"encoding":{"x":{"field":"d","type":"nominal","scale":{"domain":["1 day","2 days","3 days","4 days","5 days"],"paddingOuter":0.25,"paddingInner":0.25},"axis":{"title":"after mammogram","titlePadding":1,"labelAngle":0,"grid":false}},
"xOffset":{"field":"g","type":"nominal","scale":{"domain":["very small","small","medium","large","very large"],"paddingInner":0.05}},
"color":{"field":"g","type":"nominal","scale":{"domain":["very small","small","medium","large","very large"],"range":["#E41A1C","#EE8231","#4D9A2A","#69B3D6","#2B2BE8"]},"legend":null}},
"layer":[
{"mark":{"type":"rule","strokeWidth":1},"encoding":{"y":{"field":"lw","type":"quantitative","scale":{"domain":[-0.27,10.42],"nice":false,"zero":false},"axis":{"title":"Numerical Rating Scale [0–10]","values":[0,2,4,6,8,10],"tickCount":50,"format":"d","grid":true}},"y2":{"field":"uw"}}},
{"mark":{"type":"bar","opacity":0.55},"encoding":{"y":{"field":"q1","type":"quantitative","scale":{"domain":[-0.27,10.42],"nice":false,"zero":false}},"y2":{"field":"q3"}}},
{"mark":{"type":"bar","filled":false,"strokeWidth":1},"encoding":{"y":{"field":"q1","type":"quantitative","scale":{"domain":[-0.27,10.42],"nice":false,"zero":false}},"y2":{"field":"q3"}}},
{"mark":{"type":"tick","thickness":1.5,"size":7},"encoding":{"y":{"field":"md","type":"quantitative","scale":{"domain":[-0.27,10.42],"nice":false,"zero":false}}}},
{"data":{"name":"ot"},"transform":[{"filter":"datum.p=='G'"}],"mark":{"type":"circle","size":12,"opacity":1},"encoding":{"y":{"field":"v","type":"quantitative","scale":{"domain":[-0.27,10.42],"nice":false,"zero":false}}}}
]}
],"spacing":7,"resolve":{"scale":{"color":"independent"},"legend":{"color":"independent"}}}
],"spacing":7,"resolve":{"scale":{"color":"independent"},"legend":{"color":"independent"}}}
],
"spacing":10,
"resolve":{"scale":{"color":"independent"},"legend":{"color":"independent"}}
}
